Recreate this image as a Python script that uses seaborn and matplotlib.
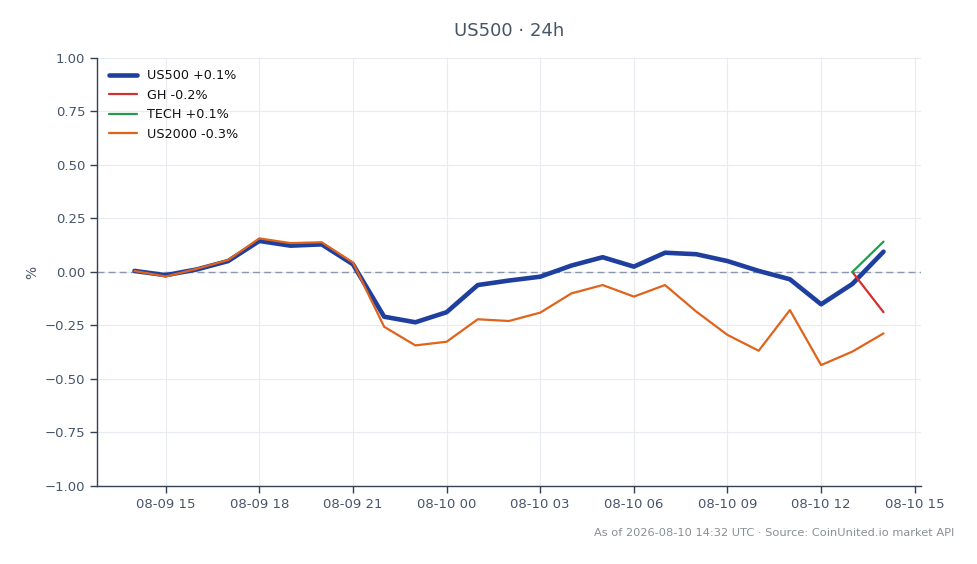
"""US500 24h performance vs related indices."""

import matplotlib
matplotlib.use("Agg")

import matplotlib.pyplot as plt
import matplotlib.dates as mdates
import matplotlib.ticker as mticker
import numpy as np
import pandas as pd
import seaborn as sns

# hourly timestamps, 08-09 14:00 .. 08-10 14:00
times = pd.date_range("2026-08-09 14:00", "2026-08-10 14:00", freq="h")

us500 = [0.005, -0.015, 0.012, 0.051, 0.145, 0.123, 0.129, 0.036, -0.209, -0.235,
         -0.188, -0.061, -0.040, -0.022, 0.030, 0.069, 0.025, 0.090, 0.083, 0.051,
         0.005, -0.034, -0.151, -0.056, 0.095]
us2000 = [0.005, -0.021, 0.015, 0.056, 0.157, 0.135, 0.139, 0.044, -0.256, -0.343,
          -0.326, -0.221, -0.229, -0.190, -0.100, -0.061, -0.115, -0.061, -0.185, -0.294,
          -0.368, -0.178, -0.435, -0.372, -0.287]
# GH and TECH only have the last two readings
gh = [0.0, -0.188]
tech = [0.0, 0.142]

labels = ["US500 +0.1%", "GH -0.2%", "TECH +0.1%", "US2000 -0.3%"]
colors = ["#1e3f9e", "#d32f2f", "#1f9d4c", "#e0631c"]

sns.set_theme(style="white")
plt.rcParams.update({
    "font.family": ["DejaVu Sans"],
    "axes.edgecolor": "#334155",
    "xtick.color": "#334155",
    "ytick.color": "#334155",
    "xtick.labelcolor": "#475569",
    "ytick.labelcolor": "#475569",
    "xtick.bottom": True,
    "ytick.left": True,
})

fig = plt.figure(figsize=(9.78, 5.64), dpi=100)
ax = fig.add_axes([0.0992, 0.1383, 0.8425, 0.7589])

sns.lineplot(x=times, y=us500, ax=ax, color=colors[0], linewidth=3.3, label=labels[0])
sns.lineplot(x=times[-2:], y=gh, ax=ax, color=colors[1], linewidth=1.6, label=labels[1])
sns.lineplot(x=times[-2:], y=tech, ax=ax, color=colors[2], linewidth=1.6, label=labels[2])
sns.lineplot(x=times, y=us2000, ax=ax, color=colors[3], linewidth=1.6, label=labels[3])

ax.axhline(0, color="#8a97ab", linestyle=(0, (5, 3)), linewidth=1.0, zorder=1.5)

ax.set_ylim(-1.0, 1.0)
ax.set_yticks(np.arange(-1.0, 1.01, 0.25))
ax.yaxis.set_major_formatter(mticker.FuncFormatter(lambda v, _: f"{v:.2f}".replace("-", "\u2212")))
ax.xaxis.set_major_locator(mdates.HourLocator(byhour=range(0, 24, 3)))
ax.xaxis.set_major_formatter(mdates.DateFormatter("%m-%d %H"))
ax.tick_params(axis="both", labelsize=9.5, length=5, width=1.0)

ax.grid(True, color="#e8ecf1", linewidth=0.8)
ax.set_axisbelow(True)
sns.despine(ax=ax)
ax.spines["left"].set_linewidth(1.0)
ax.spines["bottom"].set_linewidth(1.0)

ax.set_xlabel("")
ax.set_ylabel("%", color="#475569", fontsize=10, labelpad=4)

leg = ax.legend(loc="upper left", frameon=False, fontsize=9.2, handlelength=2.2)
for txt in leg.get_texts():
    txt.set_color("#111111")

fig.text(0.521, 0.945, "US500 · 24h", ha="center", va="center", fontsize=13, color="#475569")
fig.text(0.976, 0.055, "As of 2026-08-10 14:32 UTC · Source: CoinUnited.io market API",
         ha="right", va="center", fontsize=8.2, color="#8a8f96")

fig.savefig("out.png", dpi=100)
